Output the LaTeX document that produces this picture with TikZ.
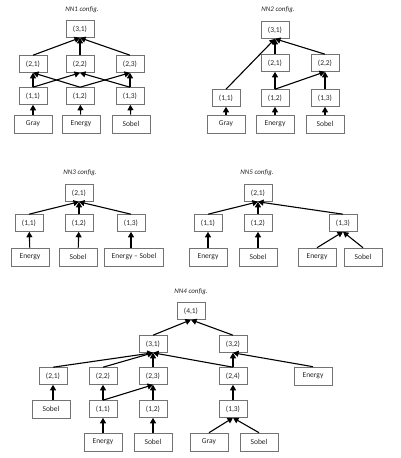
\documentclass[tikz,border=0pt]{standalone}
\usepackage{fontspec}
\setmainfont{Carlito}
\usetikzlibrary{arrows.meta}
\tikzset{
  box/.style={draw=black!55, line width=0.6pt, fill=white, text=black!85, minimum width=28pt, minimum height=17pt, inner sep=0pt, font=\fontsize{7.5}{9}\selectfont},
  inbox/.style={box, minimum width=38pt, minimum height=18pt},
  arr/.style={-{Triangle[length=5.5pt,width=6pt]}, line width=1.1pt},
  ttl/.style={text=black!85, font=\itshape\fontsize{7}{8}\selectfont}
}
\begin{document}
\begin{tikzpicture}[x=1pt,y=-1pt]
\useasboundingbox (0,0) rectangle (400,458);
% ---------- NN1 ----------
\node[ttl] (t1) at (82,10) {NN1 config.};
\node[box] (a31) at (80,29) {(3,1)};
\node[box] (a21) at (33,64) {(2,1)};
\node[box] (a22) at (80,64) {(2,2)};
\node[box] (a23) at (130,64) {(2,3)};
\node[box] (a11) at (33,96) {(1,1)};
\node[box] (a12) at (80,96) {(1,2)};
\node[box] (a13) at (130,96) {(1,3)};
\node[inbox] (ag) at (33,124) {Gray};
\node[inbox] (ae) at (81,124) {Energy};
\node[inbox] (as) at (131,124) {Sobel};
\draw[arr] (ag) -- (a11);
\draw[arr] (ae) -- (a12);
\draw[arr] (as) -- (a13);
\draw[arr] (a11.north) -- (a21.south);
\draw[arr] (a11.north) -- (a22.south);
\draw[arr] (a12.north) -- (a21.south);
\draw[arr] (a12.north) -- (a23.south);
\draw[arr] (a13.north) -- (a23.south);
\draw[arr] (a13.north) -- (a22.south);
\draw[arr] (a21.north) -- (a31.south);
\draw[arr] (a22.north) -- (a31.south);
\draw[arr] (a23.north) -- (a31.south);
% ---------- NN2 ----------
\node[ttl] (t2) at (278,10) {NN2 config.};
\node[box] (b31) at (275,30) {(3,1)};
\node[box] (b21) at (275,63) {(2,1)};
\node[box] (b22) at (325,63) {(2,2)};
\node[box] (b11) at (226,98) {(1,1)};
\node[box] (b12) at (275,98) {(1,2)};
\node[box] (b13) at (325,98) {(1,3)};
\node[inbox] (bg) at (226,124) {Gray};
\node[inbox] (be) at (275,124) {Energy};
\node[inbox] (bs) at (325,124) {Sobel};
\draw[arr] (bg) -- (b11);
\draw[arr] (be) -- (b12);
\draw[arr] (bs) -- (b13);
\draw[arr] (b11.north) -- (b31.south);
\draw[arr] (b12.north) -- (b21.south);
\draw[arr] (b12.north) -- (b22.south);
\draw[arr] (b13.north) -- (b22.south);
\draw[arr] (b21.north) -- (b31.south);
\draw[arr] (b22.north) -- (b31.south);
% ---------- NN3 ----------
\node[ttl] (t3) at (80,173) {NN3 config.};
\node[box] (c21) at (79,193) {(2,1)};
\node[box] (c11) at (29,223) {(1,1)};
\node[box] (c12) at (79,223) {(1,2)};
\node[box] (c13) at (131,223) {(1,3)};
\node[inbox] (ce) at (30,257) {Energy};
\node[inbox] (cs) at (78,257) {Sobel};
\node[inbox, minimum width=59pt] (ces) at (134,257) {Energy – Sobel};
\draw[arr] (ce) -- (c11);
\draw[arr] (cs) -- (c12);
\draw[arr] (ces.north -| c13) -- (c13);
\draw[arr] (c11.north) -- (c21.south);
\draw[arr] (c12.north) -- (c21.south);
\draw[arr] (c13.north) -- (c21.south);
% ---------- NN5 ----------
\node[ttl] (t5) at (257,173) {NN5 config.};
\node[box] (d21) at (258,193) {(2,1)};
\node[box] (d11) at (208,223) {(1,1)};
\node[box] (d12) at (258,223) {(1,2)};
\node[box] (d13) at (343,223) {(1,3)};
\node[inbox] (de1) at (208,257) {Energy};
\node[inbox] (ds1) at (258,257) {Sobel};
\node[inbox] (de2) at (317,257) {Energy};
\node[inbox] (ds2) at (363,257) {Sobel};
\draw[arr] (de1) -- (d11);
\draw[arr] (ds1) -- (d12);
\draw[arr] (de2.north) -- (d13.south);
\draw[arr] (ds2.north) -- (d13.south);
\draw[arr] (d11.north) -- (d21.south);
\draw[arr] (d12.north) -- (d21.south);
\draw[arr] (d13.north) -- (d21.south);
% ---------- NN4 ----------
\node[ttl] (t4) at (191,292) {NN4 config.};
\node[box] (e41) at (191,311) {(4,1)};
\node[box] (e31) at (153,344) {(3,1)};
\node[box] (e32) at (233,344) {(3,2)};
\node[box] (e21) at (53,376) {(2,1)};
\node[box] (e22) at (103,376) {(2,2)};
\node[box] (e23) at (153,376) {(2,3)};
\node[box] (e24) at (233,376) {(2,4)};
\node[inbox] (eer) at (313,376) {Energy};
\node[inbox] (es1) at (51,409) {Sobel};
\node[box] (e11) at (103,409) {(1,1)};
\node[box] (e12) at (153,409) {(1,2)};
\node[box] (e13) at (233,409) {(1,3)};
\node[inbox] (ee) at (103,442) {Energy};
\node[inbox] (es2) at (153,442) {Sobel};
\node[inbox] (eg) at (209,442) {Gray};
\node[inbox] (es3) at (259,442) {Sobel};
\draw[arr] (ee) -- (e11);
\draw[arr] (es2) -- (e12);
\draw[arr] (eg.north) -- (e13.south);
\draw[arr] (es3.north) -- (e13.south);
\draw[arr] (es1.north -| e21) -- (e21);
\draw[arr] (e11) -- (e22);
\draw[arr] (e11.north) -- (e23.south);
\draw[arr] (e12) -- (e23);
\draw[arr] (e13) -- (e24);
\draw[arr] (e21.north) -- (e31.south);
\draw[arr] (e22.north) -- (e31.south);
\draw[arr] (e23) -- (e31);
\draw[arr] (e24.north) -- (e31.south);
\draw[arr] (e24) -- (e32);
\draw[arr] (eer.north) -- (e32.south);
\draw[arr] (e31.north) -- (e41.south);
\draw[arr] (e32.north) -- (e41.south);
\end{tikzpicture}
\end{document}
